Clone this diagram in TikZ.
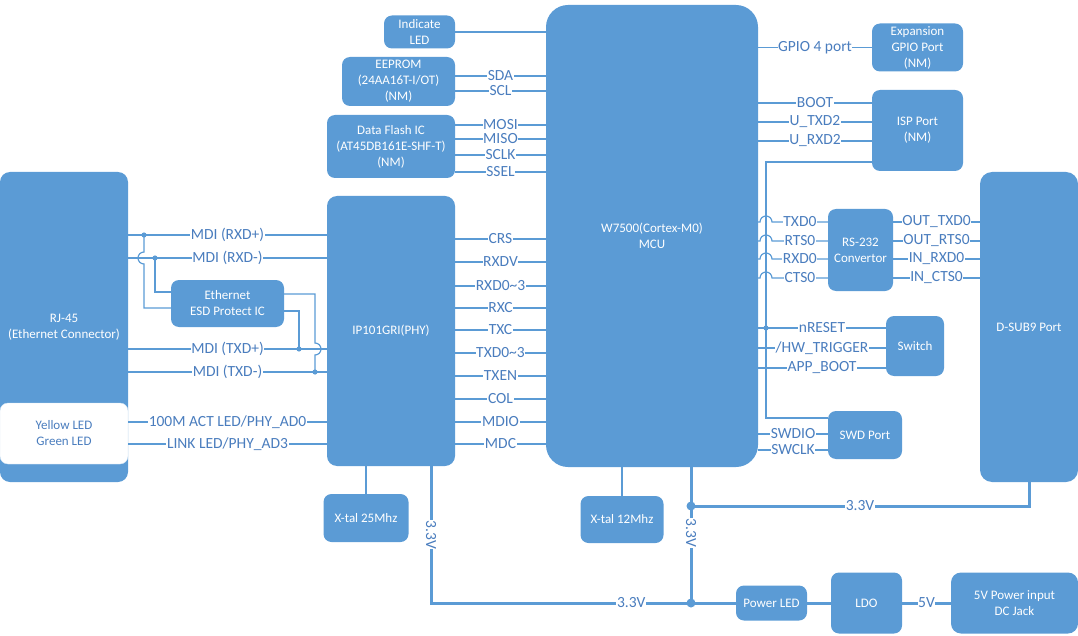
\documentclass[tikz,border=0pt]{standalone}
\usepackage{fontspec}
\setmainfont{Carlito}
\usepackage{tikz}
\usepackage{xcolor}
\definecolor{boxblue}{HTML}{5B9BD5}
\definecolor{lineblue}{HTML}{5B9BD5}
\definecolor{lblblue}{HTML}{4A7DBE}
\newcommand{\boxfont}{\fontsize{13}{16}\selectfont}
\newcommand{\lblfont}{\fontsize{15.5}{17}\selectfont}
\tikzstyle{blk} = [fill=boxblue, draw=none, rounded corners=8pt, text=white,
    font=\boxfont, align=center, inner sep=2pt]
\tikzstyle{sig} = [draw=lineblue, line width=1.2pt]
\tikzstyle{pwr} = [draw=lineblue, line width=3pt]
\tikzstyle{lbl} = [fill=white, text=lblblue, font=\lblfont, inner sep=0.6pt]

\begin{document}
\begin{tikzpicture}[x=1pt, y=-1pt]
\useasboundingbox (0,0) rectangle (1078,636);
% blocks
\node[blk, minimum width=128, minimum height=310, rounded corners=10pt] (rj45) at (64,327) {RJ-45\\(Ethernet Connector)};
\node[blk, fill=white, draw=lineblue!25, text=lblblue, minimum width=128, minimum height=61] (leds) at (64,433.5) {Yellow LED\\Green LED};
\node[blk, minimum width=113, minimum height=47] (esd) at (227.5,303.5) {Ethernet\\ESD Protect IC};
\node[blk, minimum width=128, minimum height=270, rounded corners=10pt] (phy) at (391,331) {IP101GRI(PHY)};
\node[blk, minimum width=85, minimum height=48] (xtal25) at (366,518) {X-tal 25Mhz};
\node[blk, minimum width=71, minimum height=33] (indled) at (419.5,32) {Indicate\\LED};
\node[blk, minimum width=113, minimum height=49] (eeprom) at (398.5,81.5) {EEPROM\\(24AA16T-I/OT)\\(NM)};
\node[blk, minimum width=128, minimum height=63] (flash) at (391,146.5) {Data Flash IC\\(AT45DB161E-SHF-T)\\(NM)};
\node[blk, minimum width=212, minimum height=462, rounded corners=22pt] (mcu) at (652,236) {W7500(Cortex-M0)\\MCU};
\node[blk, minimum width=83, minimum height=47] (xtal12) at (622,519.5) {X-tal 12Mhz};
\node[blk, minimum width=91, minimum height=48] (gpio) at (917.5,47.5) {Expansion\\GPIO Port\\(NM)};
\node[blk, minimum width=91, minimum height=81] (isp) at (917.5,130.5) {ISP Port\\(NM)};
\node[blk, minimum width=65, minimum height=82] (rs232) at (860.5,250) {RS-232\\Convertor};
\node[blk, minimum width=58, minimum height=60] (sw) at (915,346) {Switch};
\node[blk, minimum width=74, minimum height=48] (swd) at (865,435) {SWD Port};
\node[blk, minimum width=98, minimum height=310, rounded corners=12pt] (dsub) at (1029,327) {D-SUB9 Port};
\node[blk, minimum width=71, minimum height=35] (pled) at (771.5,603) {Power LED};
\node[blk, minimum width=71, minimum height=61] (ldo) at (866.5,603) {LDO};
\node[blk, minimum width=127, minimum height=61, rounded corners=10pt] (dcjack) at (1014.5,603) {5V Power input\\DC Jack};

% junctions
\coordinate (jrxp) at (144,235);
\coordinate (jrxn) at (155,258);
\coordinate (jtxp) at (299,349);
\coordinate (jtxn) at (315,372);
\coordinate (jrst) at (766,328);
\coordinate (jdsub) at (691,506);
\coordinate (jled) at (691,603);
\coordinate (cphy) at (431,603);

% RJ-45 -- PHY
\foreach \y/\t in {235/MDI (RXD+), 258/MDI (RXD-), 349/MDI (TXD+), 372/MDI (TXD-)}
    \draw[sig] (rj45.east |- 0,\y) -- node[lbl]{\t} (phy.west |- 0,\y);
\draw[sig] (leds.east |- 0,422) -- node[lbl]{100M ACT LED/PHY\_AD0} (phy.west |- 0,422);
\draw[sig] (leds.east |- 0,444) -- node[lbl]{LINK LED/PHY\_AD3} (phy.west |- 0,444);
\draw[sig] (jrxp) -- (144,252) arc (270:90:6) |- (esd.west |- 0,308);
\draw[sig] (jrxn) |- (esd.west |- 0,292);
\draw[sig] (esd.east |- 0,294) -| (315,343) arc (-90:90:6) -- (jtxn);
\draw[sig] (esd.east |- 0,311) -| (jtxp);
\foreach \p in {jrxp,jrxn,jtxp,jtxn}
    \fill[lineblue] (\p) circle (2.6);

% PHY -- MCU
\foreach \y/\t in {239/CRS, 262/RXDV, 286/RXD0\textasciitilde3, 308/RXC, 330/TXC,
    353/TXD0\textasciitilde3, 376/TXEN, 399/COL, 422/MDIO, 444/MDC}
    \draw[sig] (phy.east |- 0,\y) -- node[lbl]{\t} (mcu.west |- 0,\y);
\draw[sig] (xtal25) -- (xtal25 |- phy.south);

% peripherals left of MCU
\draw[sig] (indled) -- (indled -| mcu.west);
\foreach \y/\t in {76/SDA, 91/SCL}
    \draw[sig] (eeprom.east |- 0,\y) -- node[lbl]{\t} (mcu.west |- 0,\y);
\foreach \y/\t in {125/MOSI, 139/MISO, 155/SCLK, 172/SSEL}
    \draw[sig] (flash.east |- 0,\y) -- node[lbl]{\t} (mcu.west |- 0,\y);

% right of MCU
\draw[sig] (mcu.east |- gpio) -- node[lbl]{GPIO 4 port} (gpio);
\foreach \y/\t in {103/BOOT, 122/U\_TXD2, 141/U\_RXD2}
    \draw[sig] (mcu.east |- 0,\y) -- node[lbl]{\t} (isp.west |- 0,\y);
\draw[sig] (isp.west |- 0,162) -| (766,418) -- (swd.west |- 0,418);
\foreach \y/\a/\b in {222/TXD0/OUT\_TXD0, 241/RTS0/OUT\_RTS0, 259/RXD0/IN\_RXD0, 278/CTS0/IN\_CTS0} {
    \draw[sig] (mcu.east |- 0,\y) -- (760,\y) arc (180:360:6) -- node[lbl]{\a} (rs232.west |- 0,\y);
    \draw[sig] (rs232.east |- 0,\y) -- node[lbl]{\b} (dsub.west |- 0,\y);
}
\draw[sig] (mcu.east |- 0,328) -- node[lbl]{nRESET} (sw.west |- 0,328);
\draw[sig] (mcu.east |- 0,348) -- node[lbl]{/HW\_TRIGGER} (sw.west |- 0,348);
\draw[sig] (mcu.east |- 0,368) -- node[lbl]{APP\_BOOT} (sw.west |- 0,368);
\fill[lineblue] (jrst) circle (2.6);
\draw[sig] (mcu.east |- 0,434) -- node[lbl]{SWDIO} (swd.west |- 0,434);
\draw[sig] (mcu.east |- 0,450) -- node[lbl]{SWCLK} (swd.west |- 0,450);
\draw[sig] (xtal12) -- (xtal12 |- mcu.south);

% power
\draw[pwr] ([xshift=40pt]phy.south) -- node[lbl, rotate=-90]{3.3V} (cphy) -- node[lbl, pos=0.77]{3.3V} (jled) -- (pled);
\draw[pwr] ([xshift=39pt]mcu.south) -- (jdsub) -- node[lbl, pos=0.28, rotate=-90]{3.3V} (jled);
\draw[pwr] (jdsub) -- node[lbl]{3.3V} (jdsub -| dsub.south) -- (dsub.south);
\draw[pwr] (pled) -- (ldo);
\draw[pwr] (ldo) -- node[lbl]{5V} (dcjack);
\fill[lineblue] (jdsub) circle (4.5);
\fill[lineblue] (jled) circle (4.5);
\end{tikzpicture}
\end{document}
